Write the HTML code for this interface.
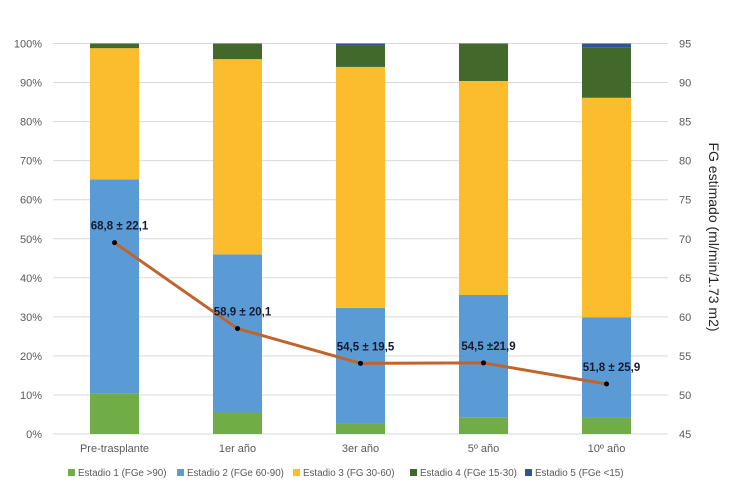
<!DOCTYPE html>
<html><head><meta charset="utf-8"><style>
body{margin:0;background:#fff;}
svg{display:block;font-family:"Liberation Sans",sans-serif;}
</style></head><body>
<svg id="chart" width="750" height="500"></svg>
<script>
const categories=["Pre-trasplante","1er año","3er año","5º año","10º año"];
const estadio1=[10.4,5.5,2.7,4.3,4.2];
const estadio2=[54.8,40.5,29.6,31.3,25.7];
const estadio3=[33.6,50,61.7,54.8,56.2];
const estadio4=[1.2,4,5.5,9.6,12.8];
const estadio5=[0,0,0.5,0,1.1];
const fgValues=[69.5,58.5,54.05,54.1,51.4];
const fgLabels=["68,8 ± 22,1","58,9 ± 20,1","54,5 ± 19,5","54,5 ±21,9","51,8 ± 25,9"];
const leftTicks=[0,10,20,30,40,50,60,70,80,90,100];
const rightTicks=[45,50,55,60,65,70,75,80,85,90,95];
const seriesNames=["Estadio 1 (FGe >90)","Estadio 2 (FGe 60-90)","Estadio 3 (FG 30-60)","Estadio 4 (FGe 15-30)","Estadio 5 (FGe <15)"];
const colors=["#70ad47","#5b9bd5","#fbbd2e","#43682b","#2f5597"];
const svg=document.getElementById('chart');
const NS="http://www.w3.org/2000/svg";
const X0=53,X1=668,Y0=434,Y1=43.5;
const bw=(X1-X0)/categories.length;
const yL=v=>Y0-(v/100)*(Y0-Y1);
const yR=v=>Y0-((v-45)/50)*(Y0-Y1);
const xC=i=>X0+bw*(i+0.5);
function mk(t,a,txt){const e=document.createElementNS(NS,t);for(const k in a)e.setAttribute(k,a[k]);if(txt!==undefined)e.textContent=txt;svg.appendChild(e);return e;}
leftTicks.forEach(v=>{
 const g=mk('line',{x1:X0,x2:X1,y1:yL(v),y2:yL(v),stroke:'#d9d9d9','stroke-width':1});
 
 
 const t=mk('text',{x:42,y:yL(v)+4,'text-anchor':'end','font-size':11,fill:'#595959'},v+'%');
 
 
});
rightTicks.forEach(v=>{
 const t=mk('text',{x:679,y:yR(v)+4,'font-size':11,fill:'#595959'},v);
 
 
});
const series=[estadio1,estadio2,estadio3,estadio4,estadio5];
categories.forEach((c,i)=>{
 let cum=0;
 series.forEach((s,k)=>{
  const v=s[i]; if(v<=0){return;}
  const r=mk('rect',{x:xC(i)-24.5,width:49,y:yL(cum+v),height:yL(cum)-yL(cum+v),fill:colors[k]});
  
  
  cum+=v;
 });
 const t=mk('text',{x:xC(i),y:452,'text-anchor':'middle','font-size':11,fill:'#595959'},c);
 
 
});
const pts=fgValues.map((v,i)=>xC(i)+','+yR(v)).join(' ');
const pl=mk('polyline',{points:pts,fill:'none',stroke:'#c0642c','stroke-width':3,'stroke-linejoin':'round'});


fgValues.forEach((v,i)=>{
 const p=mk('circle',{cx:xC(i),cy:yR(v),r:2.5,fill:'#000'});
 
 
 const t=mk('text',{x:xC(i)+5,y:yR(v)-13,'text-anchor':'middle','font-size':11.5,'font-weight':'bold',fill:'#1a1a2e'},fgLabels[i]);
 
 
});
const at=mk('text',{x:0,y:0,'font-size':14,fill:'#262626','text-anchor':'middle',transform:'translate(709,237) rotate(90)'},'FG estimado (ml/min/1.73 m2)');


const lx=[68,177,293,410,525];
seriesNames.forEach((n,k)=>{
 const r=mk('rect',{x:lx[k],y:469,width:7,height:7,fill:colors[k]});
 
 
 const t=mk('text',{x:lx[k]+10,y:476,'font-size':9.8,fill:'#595959'},n);
 
 
});
</script>
</body></html>
